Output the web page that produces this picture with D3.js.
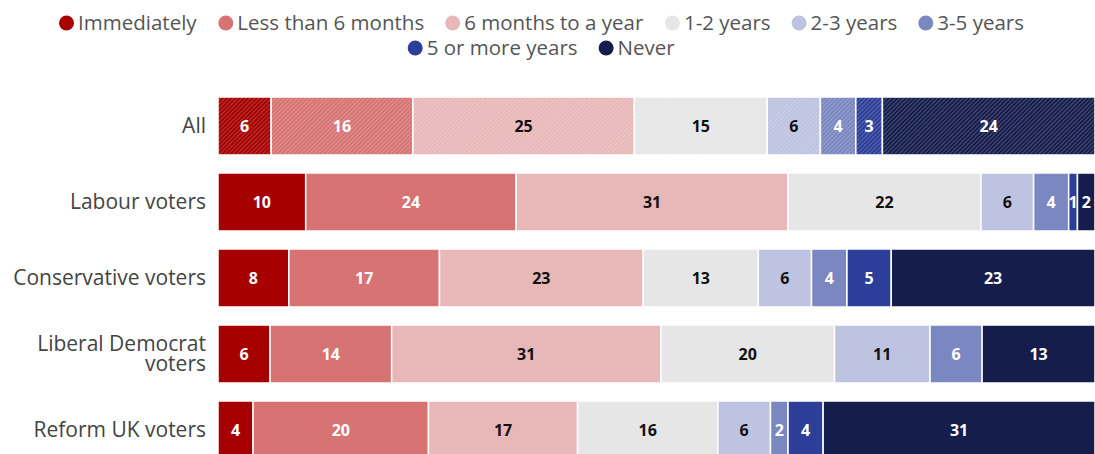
<!DOCTYPE html>
<html>
<head>
<meta charset="utf-8">
<script src="https://cdn.jsdelivr.net/npm/d3@7"></script>
<style>
  body { margin: 0; background: #fff; }
  svg { display: block; font-family: "Open Sans", "Noto Sans", sans-serif; }
</style>
</head>
<body>
<svg id="chart" width="1095" height="454"></svg>
<script>
// answer options, in stacking order
const categories = ['Immediately', 'Less than 6 months', '6 months to a year', '1-2 years',
  '2-3 years', '3-5 years', '5 or more years', 'Never'];
const colors = ['#a60000', '#d77373', '#e8b7b7', '#e6e6e6', '#bdc3e0', '#7a87c0', '#2c3e98', '#151d4d'];
const darkText = [false, false, true, true, true, false, false, false];

const groups = ['All', 'Labour voters', 'Conservative voters', 'Liberal Democrat voters', 'Reform UK voters'];
const allVals = [6, 16, 25, 15, 6, 4, 3, 24];
const labourVals = [10, 24, 31, 22, 6, 4, 1, 2];
const conVals = [8, 17, 23, 13, 6, 4, 5, 23];
const libdemVals = [6, 14, 31, 20, 11, 6, 0, 13];
const reformVals = [4, 20, 17, 16, 6, 2, 4, 31];
const values = [allVals, labourVals, conVals, libdemVals, reformVals];

const svg = d3.select('#chart');
const W = 1095, left = 218;

// hatch patterns for the "All" row
const defs = svg.append('defs');
colors.forEach((c, i) => {
  const p = defs.append('pattern')
    .attr('id', 'hatch' + i)
    .attr('patternUnits', 'userSpaceOnUse')
    .attr('width', 3).attr('height', 3)
    .attr('patternTransform', 'rotate(45)');
  p.append('rect').attr('width', 3).attr('height', 3).attr('fill', c);
  p.append('rect').attr('width', 1).attr('height', 3)
    .attr('fill', '#fff').attr('opacity', 0.22);
});

// legend, wrapped and centred
const legend = svg.append('g');
const items = legend.selectAll('g').data(categories).enter().append('g');
items.append('circle').attr('r', 7.5).attr('cx', 7.5).attr('cy', 0)
  .attr('fill', (d, i) => colors[i]);
items.append('text').attr('x', 19).attr('dy', '0.35em')
  .attr('font-size', 20.5).attr('fill', '#555').text(d => d);

const widths = [];
items.each(function () { widths.push(this.getBBox().width); });
const gap = 21, maxW = 1020;
let rows = [[]], rowW = [0];
widths.forEach((w, i) => {
  let r = rows.length - 1;
  const add = (rows[r].length ? gap : 0) + w;
  if (rowW[r] + add > maxW) { rows.push([]); rowW.push(0); r++; }
  rowW[r] += (rows[r].length ? gap : 0) + w;
  rows[r].push(i);
});
rows.forEach((r, ri) => {
  let x = (W - rowW[ri]) / 2 - 6;
  r.forEach(i => {
    d3.select(items.nodes()[i]).attr('transform', `translate(${x},${23 + ri * 25})`);
    x += widths[i] + gap;
  });
});

// bars
const y = d3.scaleBand().domain(groups).range([97, 459]).paddingInner(0.237).paddingOuter(0);

groups.forEach((g, gi) => {
  const vals = values[gi];
  const total = d3.sum(vals);
  const x = d3.scaleLinear().domain([0, total]).range([left, W]);
  const cum = d3.cumsum(vals);
  const segs = vals.map((v, i) => ({ v, i, x0: cum[i] - v, x1: cum[i] }));
  const row = svg.append('g');

  row.selectAll('rect').data(segs.filter(d => d.v > 0)).enter().append('rect')
    .attr('x', d => x(d.x0))
    .attr('y', y(g))
    .attr('width', d => x(d.x1) - x(d.x0))
    .attr('height', y.bandwidth())
    .attr('fill', d => gi === 0 ? `url(#hatch${d.i})` : colors[d.i])
    .attr('stroke', '#fff').attr('stroke-width', 1.5);

  row.selectAll('text').data(segs.filter(d => d.v > 0)).enter().append('text')
    .attr('x', d => (x(d.x0) + x(d.x1)) / 2)
    .attr('y', y(g) + y.bandwidth() / 2)
    .attr('dy', '0.36em')
    .attr('text-anchor', 'middle')
    .attr('font-size', 16).attr('font-weight', 'bold')
    .attr('fill', d => darkText[d.i] ? '#111' : '#fff')
    .text(d => d.v);

  // group label
  const label = svg.append('text')
    .attr('x', 206).attr('text-anchor', 'end')
    .attr('font-size', 21).attr('fill', '#444');
  const lines = g === 'Liberal Democrat voters' ? ['Liberal Democrat', 'voters'] : [g];
  const cy = y(g) + y.bandwidth() / 2;
  lines.forEach((t, li) => {
    label.append('tspan').attr('x', 206)
      .attr('y', cy + (li - (lines.length - 1) / 2) * 20)
      .attr('dy', '0.35em').text(t);
  });
});
</script>
</body>
</html>
